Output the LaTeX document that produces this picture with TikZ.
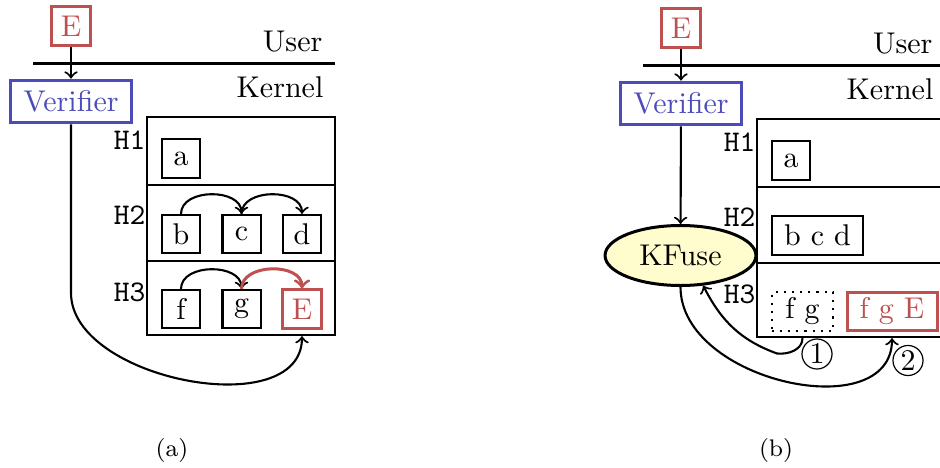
\documentclass[tikz,border=0pt]{standalone}
\usetikzlibrary{shapes.geometric}
\definecolor{vred}{RGB}{190,80,80}
\definecolor{vblue}{RGB}{75,75,185}
\definecolor{kfill}{RGB}{255,252,205}
\begin{document}
\begin{tikzpicture}[x=0.3333pt,y=-0.3333pt,
  rule/.style={line width=0.7pt},
  sq/.style={draw, rule, minimum width=12.7pt, minimum height=12.7pt, inner sep=0pt},
  redsq/.style={sq, draw=vred, text=vred, line width=1pt},
  verbox/.style={draw=vblue, text=vblue, line width=1pt, minimum width=40.3pt, minimum height=14.3pt, inner sep=0pt},
  kbox/.style={draw, rule, minimum width=62.7pt, minimum height=72.7pt, inner sep=0pt},
  hl/.style={font=\ttfamily, anchor=east, inner sep=0pt},
  side/.style={anchor=base east, inner sep=0pt},
  flow/.style={->, rule},
  hop/.style={out=90, in=90, looseness=1.1},
  num/.style={circle, draw, thin, inner sep=0.6pt},
  subcap/.style={font=\footnotesize, anchor=base, inner sep=0pt},
]
\clip (0,0) rectangle (940,468);

% ---------- (a) plain kernel ----------
\node[redsq, minimum height=13pt] (ua) at (71,26) {E};
\coordinate (la) at (33,63.5);
\coordinate (ra) at (335,63.5);
\draw[rule] (la) -- (ra);
\node[side] (usera) at (323,52) {User};
\node[side] (kerna) at (324,98) {Kernel};
\node[verbox] (va) at (71,101.5) {Verifier};
\draw[flow] (ua) -- (va);

\node[kbox] (ka) at (241,226) {};
\draw[rule] (ka.west |- 0,185) -- (ka.east |- 0,185);
\draw[rule] (ka.west |- 0,261) -- (ka.east |- 0,261);
\node[hl] (h1a) at (146,140) {H1};
\node[hl] (h2a) at (146,215) {H2};
\node[hl] (h3a) at (146,292) {H3};

\node[sq] (a1) at (181,158.5) {a};
\node[sq] (b1) at (181,234) {b};
\node[sq] (c1) at (241.5,234) {c};
\node[sq] (d1) at (302,234) {d};
\node[sq] (f1) at (181,309) {f};
\node[sq] (g1) at (241.5,309) {g};
\node[redsq] (e1) at (302,309) {E};

\draw[flow] (b1.north) to[hop] (c1.north);
\draw[flow] (c1.north) to[hop] (d1.north);
\draw[flow] (f1.north) to[hop] (g1.north);
\draw[->, vred, line width=1pt] (g1.north) to[hop] (e1.north);

\coordinate (bend-a) at (71,293);
\draw[flow] (va.south) -- (bend-a) .. controls (71,380) and (302,424) .. (e1.south |- ka.south);

\node[subcap] (capa) at (172,456) {(a)};

% ---------- (b) with KFuse ----------
\begin{scope}[shift={(610,2)}]
\node[redsq, minimum height=13pt] (ub) at (71,26) {E};
\coordinate (lb) at (33,63.5);
\coordinate (rb) at (335,63.5);
\draw[rule] (lb) -- (rb);
\node[side] (userb) at (323,52) {User};
\node[side] (kernb) at (324,98) {Kernel};
\node[verbox] (vb) at (71,101.5) {Verifier};
\draw[flow] (ub) -- (vb);

\node[kbox] (kb) at (241,226) {};
\draw[rule] (kb.west |- 0,185) -- (kb.east |- 0,185);
\draw[rule] (kb.west |- 0,261) -- (kb.east |- 0,261);
\node[hl] (h1b) at (146,140) {H1};
\node[hl] (h2b) at (146,215) {H2};
\node[hl] (h3b) at (146,292) {H3};

\node[sq] (a2) at (181,158.5) {a};
\node[sq, minimum width=30.3pt] (bcd) at (207.5,233.5) {b c d};
\node[sq, dotted, minimum width=20.3pt] (fg) at (192.5,309.5) {f g};
\node[redsq, minimum width=30pt] (fge) at (282,309.5) {f g E};

\node[ellipse, draw, line width=1pt, fill=kfill, minimum width=50.3pt,
      minimum height=20pt, inner sep=0pt] (kf) at (70.5,253.5) {KFuse};
\draw[flow] (vb) -- (kf);

\coordinate (turn) at (167,351.5);
\draw[flow] (fg.south |- kb.south) to[out=-90,in=-6] (turn)
            to[out=160,in=-63] (kf.-53);
\draw[flow] (kf.south) .. controls (70.5,380) and (282,425) .. (fge.south |- kb.south);
\node[num] (n1) at (207,352) {1};
\node[num] (n2) at (298,358.5) {2};

\node[subcap] (capb) at (166,454) {(b)};
\end{scope}
\end{tikzpicture}
\end{document}
